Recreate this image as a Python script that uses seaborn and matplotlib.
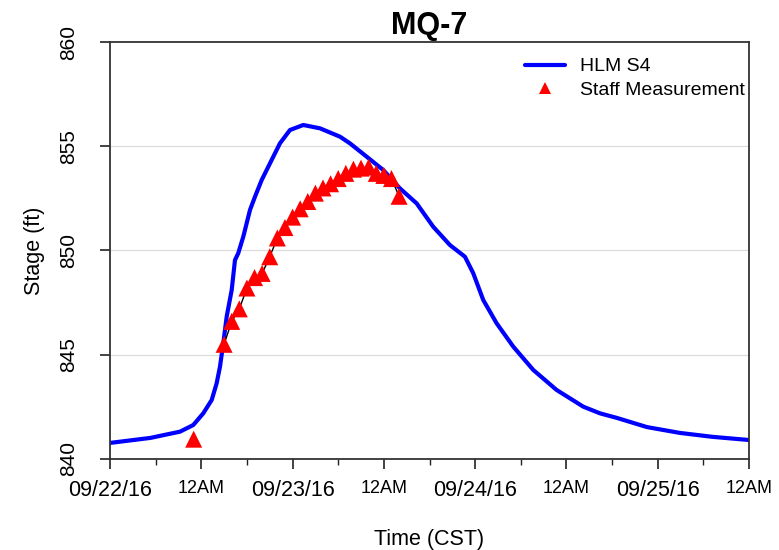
import numpy as np
import pandas as pd
import matplotlib
matplotlib.use("Agg")
import matplotlib.pyplot as plt
import seaborn as sns
from matplotlib.lines import Line2D

# HLM S4 modelled stage (hours since start of axis, ft)
hlm_hours = [0, 5.3, 9.2, 10.95, 12.26, 13.37, 14.02, 14.46, 14.89, 15.34,
             16.0, 16.43, 16.86, 17.52, 18.4, 19.06, 19.94, 21.03, 22.34,
             23.66, 25.41, 27.6, 30.23, 31.54, 33.74, 35.92, 38.11, 40.31,
             42.49, 44.69, 46.66, 47.75, 49.06, 50.82, 53.01, 55.64, 58.71,
             62.21, 64.4, 66.63, 70.58, 74.91, 79.25, 84.0]
hlm_stage = [840.77, 841.01, 841.31, 841.63, 842.19, 842.83, 843.63, 844.43,
             845.55, 846.83, 848.11, 849.54, 849.87, 850.66, 851.94, 852.58,
             853.38, 854.18, 855.14, 855.78, 856.02, 855.86, 855.46, 855.14,
             854.5, 853.86, 852.98, 852.26, 851.14, 850.26, 849.7, 848.91,
             847.63, 846.51, 845.39, 844.27, 843.31, 842.51, 842.19, 841.97,
             841.53, 841.25, 841.06, 840.91]

# staff gauge readings
staff_hours = [11, 15, 16, 17, 18, 19, 20, 21, 22, 23, 24, 25, 26, 27, 28, 29,
               30, 31, 32, 33, 34, 35, 36, 37, 38]
staff_stage = [840.95, 845.5, 846.6, 847.2, 848.2, 848.7, 848.9, 849.7, 850.6,
               851.1, 851.6, 852.0, 852.35, 852.75, 853.0, 853.2, 853.45, 853.7,
               853.9, 853.95, 854.0, 853.7, 853.6, 853.45, 852.6]

tick_hours = [0, 12, 24, 36, 48, 60, 72, 84]
tick_labels = ["09/22/16", "12AM", "09/23/16", "12AM", "09/24/16", "12AM",
               "09/25/16", "12AM"]
y_ticks = [840, 845, 850, 855, 860]

sns.set_theme(style="white")
plt.rcParams['font.family'] = ['Liberation Sans', 'DejaVu Sans']
plt.rcParams['text.color'] = 'black'
plt.rcParams['axes.labelcolor'] = 'black'
plt.rcParams['xtick.color'] = 'black'
plt.rcParams['ytick.color'] = 'black'

hlm = pd.DataFrame({"hours": hlm_hours, "stage": hlm_stage})
staff = pd.DataFrame({"hours": staff_hours, "stage": staff_stage})

fig = plt.figure(figsize=(7.79, 5.5), dpi=100)
ax = fig.add_axes([0.1412, 0.1655, 0.8203, 0.7581])

for y in [845, 850, 855]:
    ax.axhline(y, color="#dcdcdc", lw=0.9, zorder=0)

sns.lineplot(data=hlm, x="hours", y="stage", ax=ax, color="#0000ff", lw=3.0,
             zorder=2, legend=False)
# thin black line joins the readings (not the early one)
ax.plot(staff_hours[1:], staff_stage[1:], color="black", lw=1.0, zorder=3)
sns.scatterplot(data=staff, x="hours", y="stage", ax=ax, marker="^", s=150,
                color="#ff0000", edgecolor="none", linewidth=0, zorder=4,
                legend=False)

ax.set_xlim(0, 84)
ax.set_ylim(840, 860)
ax.set_yticks(y_ticks)
ax.set_yticklabels([str(v) for v in y_ticks], rotation=90, va="center",
                   fontsize=15)
ax.set_xticks(tick_hours)
ax.set_xticklabels(tick_labels)
for i, lab in enumerate(ax.get_xticklabels()):
    lab.set_fontsize(15.5 if i % 2 == 0 else 13)
ax.set_xticks(np.arange(6, 84, 12), minor=True)

ax.tick_params(axis="both", which="major", direction="out", length=7,
               width=1.2, color="#222222", bottom=True, left=True)
ax.tick_params(axis="x", which="major", pad=8)
ax.tick_params(axis="x", which="minor", direction="out", length=4,
               width=1.0, color="#222222", bottom=True)
ax.tick_params(axis="y", pad=16)

for side in ["left", "bottom", "top", "right"]:
    ax.spines[side].set_color("#333333")
    ax.spines[side].set_linewidth(1.3)

ax.set_xlabel("Time (CST)", fontsize=15.5, labelpad=20)
ax.set_ylabel("Stage (ft)", fontsize=15.5, labelpad=10)
ax.set_title("MQ-7", fontsize=22, fontweight="bold", pad=6)

handles = [Line2D([], [], color="#0000ff", lw=3.0),
           Line2D([], [], color="#ff0000", marker="^", ls="none",
                  markersize=8, markeredgewidth=0)]
ax.legend(handles, ["HLM S4", "Staff Measurement"], loc="upper left",
          bbox_to_anchor=(0.649, 0.962), frameon=False, fontsize=14,
          handlelength=2.05, handletextpad=0.77, labelspacing=0.3,
          borderaxespad=0, borderpad=0)

fig.savefig("out.png", dpi=100)
